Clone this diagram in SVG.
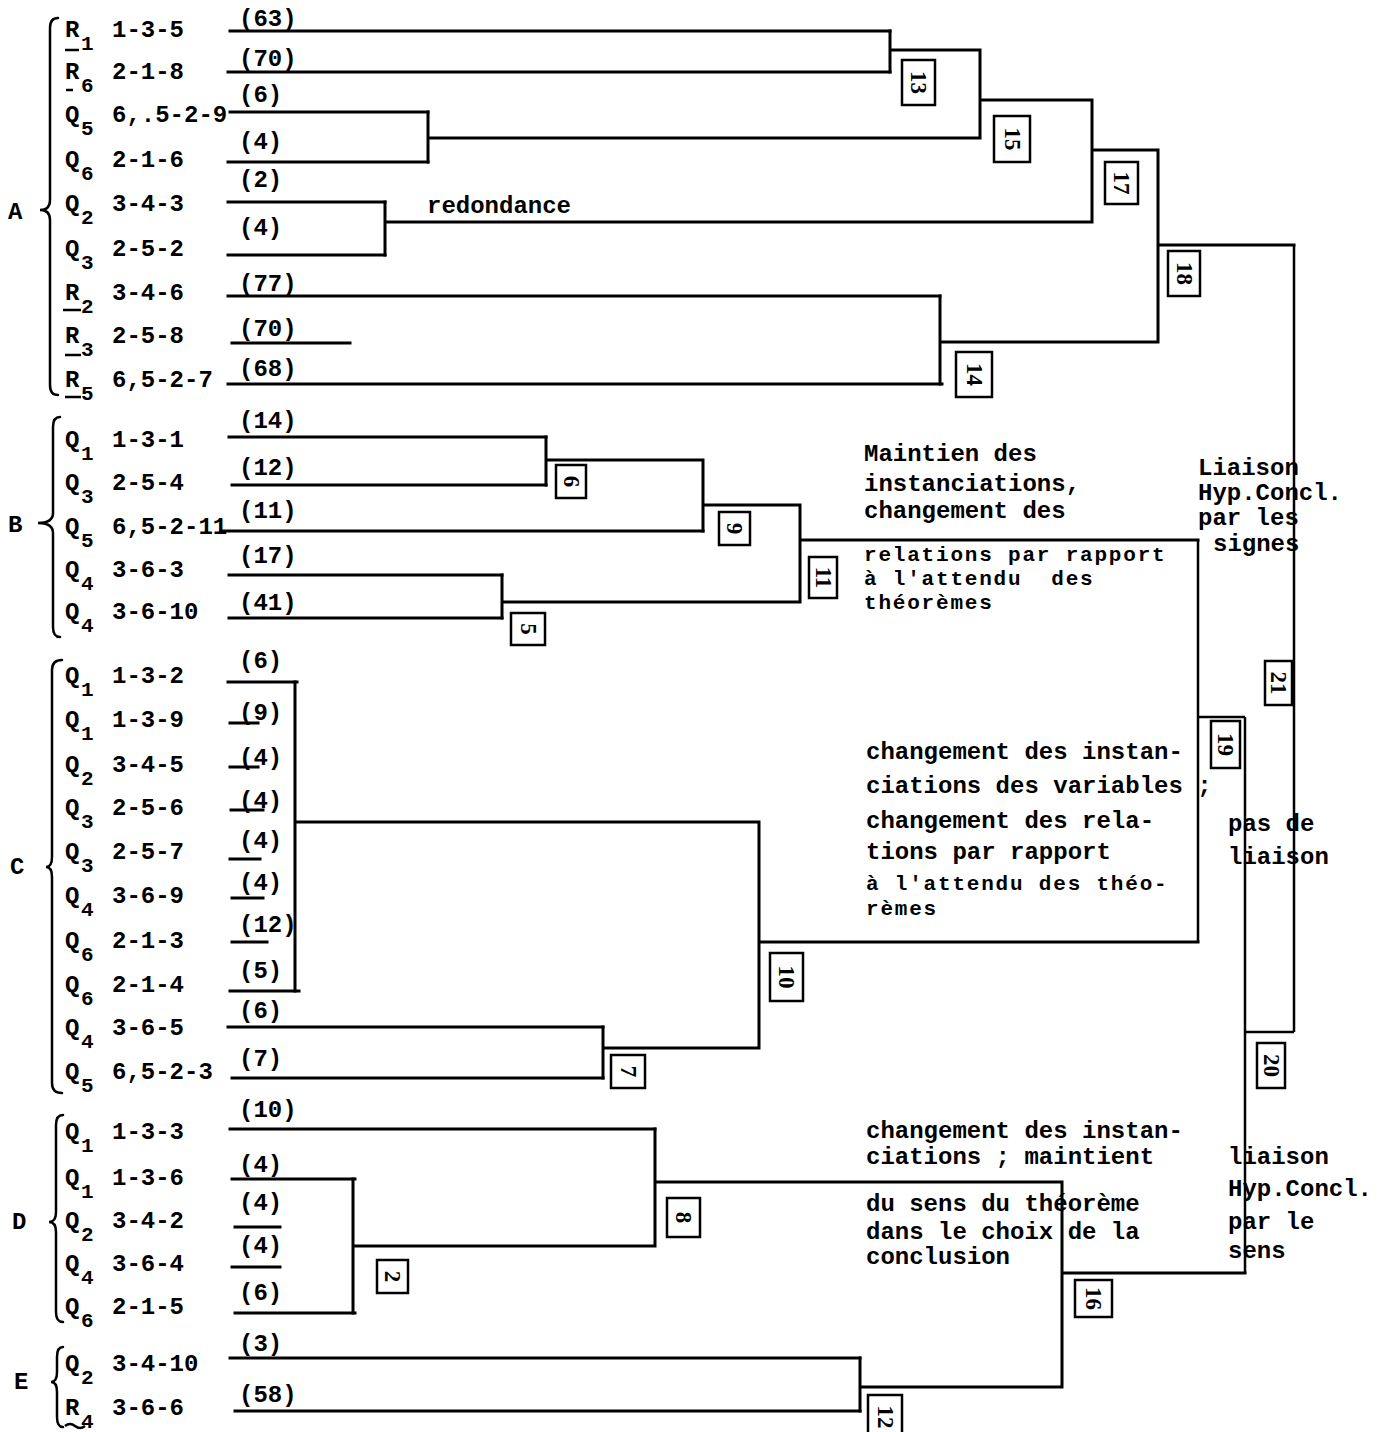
<svg xmlns="http://www.w3.org/2000/svg" width="1391" height="1432" viewBox="0 0 1391 1432">
<style>
.t{font-family:"Liberation Mono","DejaVu Sans Mono",monospace;font-size:24px;font-weight:bold;fill:#000}
.s{font-size:21px}
.c{font-size:21px;letter-spacing:1.8px}
.n{font-family:"Liberation Serif","DejaVu Serif",serif;font-size:23px;font-weight:bold;fill:#000;text-anchor:middle;dominant-baseline:central}
.l{stroke:#000;stroke-width:3;fill:none;stroke-linecap:square}
.u{stroke:#000;stroke-width:2.5;fill:none}
.br{stroke:#000;stroke-width:2.5;fill:none;stroke-linecap:round}
.b{fill:#fff;stroke:#000;stroke-width:2.5}
</style>
<rect width="1391" height="1432" fill="#fff"/>

<g id="connectors">
<path class="l" d="M230 31H890M228 72H890M230 112H428M228 162H428M228 202H385M228 255H385M228 296H940M232 343H350M228 384H942"/>
<path class="l" d="M229 437H546M232 485H546M221 531H703M229 575H502M229 618H502"/>
<path class="l" d="M228 682H297M230 723H258M230 767H258M231 810H263M230 859H260M232 898H263M232 942H267M230 991H299M228 1027H603M232 1078H603"/>
<path class="l" d="M230 1129H655M232 1179H355M235 1227H280M232 1267H280M235 1313H355M230 1358H860M235 1411H860"/>
<path class="l" d="M890 31V72M890 50H980M428 112V162M428 138H980M980 50V138M980 100H1092M385 202V255M385 222H1092M1092 100V222M1092 150H1158M940 296V384M940 342H1158M1158 150V342M1158 245H1294"/>
<path class="l" d="M546 437V485M546 460H703M703 460V531M703 505H800M502 575V618M502 602H800M800 505V602M800 540H1198"/>
<path class="l" d="M295 682V991M295 822H759M603 1027V1078M603 1048H759M759 822V1048M759 942H1198"/>
<path class="l" d="M353 1179V1313M353 1246H655M655 1129V1246M655 1182H1062M860 1358V1411M860 1387H1062M1062 1182V1387M1062 1273H1245"/>
<path class="u" d="M1198 540V942M1198 717H1245M1245 717V1273M1245 1032H1294M1294 245V1032"/>
</g>

<g id="group-labels" class="t">
<text x="8" y="219">A</text>
<text x="8" y="532">B</text>
<text x="10" y="874">C</text>
<text x="12" y="1229">D</text>
<text x="14" y="1389">E</text>
</g>
<g id="braces">
<path class="br" d="M58 18Q50 18 50 28V200Q50 210 40 210Q50 210 50 220V385Q50 395 58 395"/>
<path class="br" d="M60 417Q53 417 53 427V513Q53 523 38 523Q53 523 53 533V627Q53 637 60 637"/>
<path class="br" d="M62 660Q52 660 52 670V857Q52 867 46 867Q52 867 52 877V1083Q52 1093 62 1093"/>
<path class="br" d="M63 1115Q56 1115 56 1125V1212Q56 1222 49 1222Q56 1222 56 1232V1312Q56 1322 63 1322"/>
<path class="br" d="M63 1347Q57 1347 57 1357V1372Q57 1382 51 1382Q57 1382 57 1392V1417Q57 1427 63 1427"/>
</g>

<g id="leaf-A1" class="t"><text x="65" y="37">R</text><text class="s" x="81" y="50">1</text><text x="112" y="37">1-3-5</text><text x="239" y="26">(63)</text><path class="u" d="M65 50H79"/></g>
<g id="leaf-A2" class="t"><text x="65" y="79">R</text><text class="s" x="81" y="92">6</text><text x="112" y="79">2-1-8</text><text x="239" y="66">(70)</text><path class="u" d="M66 90H73"/></g>
<g id="leaf-A3" class="t"><text x="65" y="122">Q</text><text class="s" x="81" y="135">5</text><text x="112" y="122">6,.5-2-9</text><text x="239" y="102">(6)</text></g>
<g id="leaf-A4" class="t"><text x="65" y="167">Q</text><text class="s" x="81" y="180">6</text><text x="112" y="167">2-1-6</text><text x="239" y="149">(4)</text></g>
<g id="leaf-A5" class="t"><text x="65" y="211">Q</text><text class="s" x="81" y="224">2</text><text x="112" y="211">3-4-3</text><text x="239" y="187">(2)</text></g>
<g id="leaf-A6" class="t"><text x="65" y="256">Q</text><text class="s" x="81" y="269">3</text><text x="112" y="256">2-5-2</text><text x="239" y="235">(4)</text></g>
<g id="leaf-A7" class="t"><text x="65" y="300">R</text><text class="s" x="81" y="313">2</text><text x="112" y="300">3-4-6</text><text x="239" y="291">(77)</text><path class="u" d="M63 310H81"/></g>
<g id="leaf-A8" class="t"><text x="65" y="343">R</text><text class="s" x="81" y="356">3</text><text x="112" y="343">2-5-8</text><text x="239" y="336">(70)</text><path class="u" d="M65 355H81"/></g>
<g id="leaf-A9" class="t"><text x="65" y="387">R</text><text class="s" x="81" y="400">5</text><text x="112" y="387">6,5-2-7</text><text x="239" y="376">(68)</text><path class="u" d="M65 397H81"/></g>

<g id="leaf-B1" class="t"><text x="65" y="447">Q</text><text class="s" x="81" y="460">1</text><text x="112" y="447">1-3-1</text><text x="239" y="428">(14)</text></g>
<g id="leaf-B2" class="t"><text x="65" y="490">Q</text><text class="s" x="81" y="503">3</text><text x="112" y="490">2-5-4</text><text x="239" y="475">(12)</text></g>
<g id="leaf-B3" class="t"><text x="65" y="534">Q</text><text class="s" x="81" y="547">5</text><text x="112" y="534">6,5-2-11</text><text x="239" y="518">(11)</text></g>
<g id="leaf-B4" class="t"><text x="65" y="577">Q</text><text class="s" x="81" y="590">4</text><text x="112" y="577">3-6-3</text><text x="239" y="563">(17)</text></g>
<g id="leaf-B5" class="t"><text x="65" y="619">Q</text><text class="s" x="81" y="632">4</text><text x="112" y="619">3-6-10</text><text x="239" y="610">(41)</text></g>

<g id="leaf-C1" class="t"><text x="65" y="683">Q</text><text class="s" x="81" y="696">1</text><text x="112" y="683">1-3-2</text><text x="239" y="668">(6)</text></g>
<g id="leaf-C2" class="t"><text x="65" y="727">Q</text><text class="s" x="81" y="740">1</text><text x="112" y="727">1-3-9</text><text x="239" y="720">(9)</text></g>
<g id="leaf-C3" class="t"><text x="65" y="772">Q</text><text class="s" x="81" y="785">2</text><text x="112" y="772">3-4-5</text><text x="239" y="765">(4)</text></g>
<g id="leaf-C4" class="t"><text x="65" y="815">Q</text><text class="s" x="81" y="828">3</text><text x="112" y="815">2-5-6</text><text x="239" y="808">(4)</text></g>
<g id="leaf-C5" class="t"><text x="65" y="859">Q</text><text class="s" x="81" y="872">3</text><text x="112" y="859">2-5-7</text><text x="239" y="848">(4)</text></g>
<g id="leaf-C6" class="t"><text x="65" y="903">Q</text><text class="s" x="81" y="916">4</text><text x="112" y="903">3-6-9</text><text x="239" y="890">(4)</text></g>
<g id="leaf-C7" class="t"><text x="65" y="948">Q</text><text class="s" x="81" y="961">6</text><text x="112" y="948">2-1-3</text><text x="239" y="932">(12)</text></g>
<g id="leaf-C8" class="t"><text x="65" y="992">Q</text><text class="s" x="81" y="1005">6</text><text x="112" y="992">2-1-4</text><text x="239" y="978">(5)</text></g>
<g id="leaf-C9" class="t"><text x="65" y="1035">Q</text><text class="s" x="81" y="1048">4</text><text x="112" y="1035">3-6-5</text><text x="239" y="1018">(6)</text></g>
<g id="leaf-C10" class="t"><text x="65" y="1079">Q</text><text class="s" x="81" y="1092">5</text><text x="112" y="1079">6,5-2-3</text><text x="239" y="1066">(7)</text></g>

<g id="leaf-D1" class="t"><text x="65" y="1139">Q</text><text class="s" x="81" y="1152">1</text><text x="112" y="1139">1-3-3</text><text x="239" y="1117">(10)</text></g>
<g id="leaf-D2" class="t"><text x="65" y="1185">Q</text><text class="s" x="81" y="1198">1</text><text x="112" y="1185">1-3-6</text><text x="239" y="1172">(4)</text></g>
<g id="leaf-D3" class="t"><text x="65" y="1228">Q</text><text class="s" x="81" y="1241">2</text><text x="112" y="1228">3-4-2</text><text x="239" y="1210">(4)</text></g>
<g id="leaf-D4" class="t"><text x="65" y="1271">Q</text><text class="s" x="81" y="1284">4</text><text x="112" y="1271">3-6-4</text><text x="239" y="1253">(4)</text></g>
<g id="leaf-D5" class="t"><text x="65" y="1314">Q</text><text class="s" x="81" y="1327">6</text><text x="112" y="1314">2-1-5</text><text x="239" y="1300">(6)</text></g>

<g id="leaf-E1" class="t"><text x="65" y="1371">Q</text><text class="s" x="81" y="1384">2</text><text x="112" y="1371">3-4-10</text><text x="239" y="1351">(3)</text></g>
<g id="leaf-E2" class="t"><text x="65" y="1415">R</text><text class="s" x="81" y="1428">4</text><text x="112" y="1415">3-6-6</text><text x="239" y="1402">(58)</text><path class="u" d="M65 1426Q70 1422 75 1426T85 1426"/></g>

<g id="node-13"><rect class="b" x="902" y="60" width="33" height="45"/><text class="n" transform="rotate(90 918.5 82.5)" x="918.5" y="82.5">13</text></g>
<g id="node-15"><rect class="b" x="994" y="116" width="36" height="46"/><text class="n" transform="rotate(90 1012 139)" x="1012" y="139">15</text></g>
<g id="node-17"><rect class="b" x="1105" y="162" width="33" height="42"/><text class="n" transform="rotate(90 1121.5 183)" x="1121.5" y="183">17</text></g>
<g id="node-18"><rect class="b" x="1168" y="251" width="32" height="45"/><text class="n" transform="rotate(90 1184 273.5)" x="1184" y="273.5">18</text></g>
<g id="node-14"><rect class="b" x="956" y="352" width="36" height="45"/><text class="n" transform="rotate(90 974 374.5)" x="974" y="374.5">14</text></g>
<g id="node-6"><rect class="b" x="556" y="465" width="30" height="33"/><text class="n" transform="rotate(90 571 481.5)" x="571" y="481.5">6</text></g>
<g id="node-9"><rect class="b" x="719" y="512" width="31" height="33"/><text class="n" transform="rotate(90 734.5 528.5)" x="734.5" y="528.5">9</text></g>
<g id="node-11"><rect class="b" x="809" y="557" width="28" height="41"/><text class="n" transform="rotate(90 823 577.5)" x="823" y="577.5">11</text></g>
<g id="node-5"><rect class="b" x="511" y="613" width="34" height="32"/><text class="n" transform="rotate(90 528 629)" x="528" y="629">5</text></g>
<g id="node-21"><rect class="b" x="1265" y="661" width="27" height="44"/><text class="n" transform="rotate(90 1278.5 683)" x="1278.5" y="683">21</text></g>
<g id="node-19"><rect class="b" x="1211" y="721" width="29" height="47"/><text class="n" transform="rotate(90 1225.5 744.5)" x="1225.5" y="744.5">19</text></g>
<g id="node-10"><rect class="b" x="770" y="953" width="33" height="48"/><text class="n" transform="rotate(90 786.5 977)" x="786.5" y="977">10</text></g>
<g id="node-7"><rect class="b" x="611" y="1055" width="34" height="33"/><text class="n" transform="rotate(90 628 1071.5)" x="628" y="1071.5">7</text></g>
<g id="node-20"><rect class="b" x="1257" y="1043" width="28" height="45"/><text class="n" transform="rotate(90 1271 1065.5)" x="1271" y="1065.5">20</text></g>
<g id="node-8"><rect class="b" x="667" y="1198" width="33" height="39"/><text class="n" transform="rotate(90 683.5 1217.5)" x="683.5" y="1217.5">8</text></g>
<g id="node-2"><rect class="b" x="377" y="1260" width="31" height="33"/><text class="n" transform="rotate(90 392.5 1276.5)" x="392.5" y="1276.5">2</text></g>
<g id="node-16"><rect class="b" x="1075" y="1280" width="37" height="37"/><text class="n" transform="rotate(90 1093.5 1298.5)" x="1093.5" y="1298.5">16</text></g>
<g id="node-12"><rect class="b" x="868" y="1395" width="34" height="45"/><text class="n" transform="rotate(90 885 1417)" x="885" y="1417">12</text></g>

<g id="notes" class="t">
<text x="427" y="213">redondance</text>
<text x="864" y="461">Maintien des</text>
<text x="864" y="491">instanciations,</text>
<text x="864" y="518">changement des</text>
<text class="c" x="864" y="561">relations par rapport</text>
<text class="c" x="864" y="585" xml:space="preserve">à l'attendu  des</text>
<text class="c" x="864" y="609">théorèmes</text>
<text x="866" y="759">changement des instan-</text>
<text x="866" y="793">ciations des variables ;</text>
<text x="866" y="828">changement des rela-</text>
<text x="866" y="859">tions par rapport</text>
<text class="c" x="866" y="890">à l'attendu des théo-</text>
<text class="c" x="866" y="915">rèmes</text>
<text x="866" y="1138">changement des instan-</text>
<text x="866" y="1164">ciations ; maintient</text>
<text x="866" y="1211">du sens du théorème</text>
<text x="866" y="1239">dans le choix de la</text>
<text x="866" y="1264">conclusion</text>
<text x="1198" y="475">Liaison</text>
<text x="1198" y="500">Hyp.Concl.</text>
<text x="1198" y="525">par les</text>
<text x="1213" y="551">signes</text>
<text x="1228" y="831">pas de</text>
<text x="1228" y="864">liaison</text>
<text x="1228" y="1164">liaison</text>
<text x="1228" y="1196">Hyp.Concl.</text>
<text x="1228" y="1229">par le</text>
<text x="1228" y="1258">sens</text>
</g>
</svg>
